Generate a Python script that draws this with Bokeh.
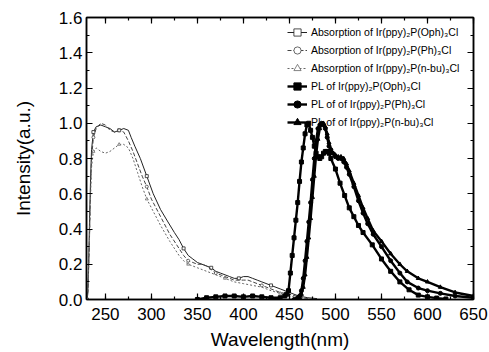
from bokeh.plotting import figure
from bokeh.models import (Range1d, LinearAxis, SingleIntervalTicker, Legend, LegendItem,
                          CustomJSTickFormatter, NumeralTickFormatter)
from bokeh.embed import file_html
from bokeh.resources import INLINE

# ---------------- data ----------------
abs_oph_wl = [230, 231, 232, 233, 234, 235, 237, 240, 245, 250, 255, 260, 265, 270, 275, 278,
              282, 288, 295, 302, 310, 318, 325, 330, 335, 340, 345, 350, 355, 360, 365, 370,
              375, 380, 385, 390, 395, 400, 405, 410, 415, 420, 430, 440, 450, 460, 470, 480]
abs_oph = [0.0, 0.05, 0.25, 0.5, 0.7, 0.85, 0.95, 0.98, 0.99, 0.98, 0.97, 0.95, 0.96, 0.97, 0.96, 0.92,
           0.87, 0.80, 0.70, 0.60, 0.51, 0.44, 0.38, 0.34, 0.29, 0.25, 0.23, 0.21, 0.20, 0.19, 0.18, 0.16,
           0.15, 0.14, 0.13, 0.12, 0.12, 0.13, 0.13, 0.12, 0.11, 0.10, 0.08, 0.06, 0.04, 0.02, 0.01, 0.005]

abs_ph_wl = [230, 231, 232, 233, 234, 235, 237, 240, 245, 250, 255, 260, 265, 270, 275, 280,
             285, 290, 295, 300, 310, 320, 330, 335, 340, 345, 350, 355, 360, 365, 370, 380,
             390, 400, 405, 410, 420, 430, 440, 450, 460, 470]
abs_ph = [0.0, 0.03, 0.2, 0.4, 0.65, 0.8, 0.92, 0.97, 1.0, 0.99, 0.96, 0.95, 0.96, 0.95, 0.90, 0.84,
          0.77, 0.70, 0.64, 0.57, 0.47, 0.37, 0.29, 0.25, 0.22, 0.21, 0.20, 0.20, 0.19, 0.17, 0.15, 0.13,
          0.11, 0.11, 0.11, 0.10, 0.08, 0.06, 0.04, 0.03, 0.015, 0.005]

abs_nbu_wl = [230, 231, 232, 233, 234, 235, 237, 240, 245, 250, 255, 260, 265, 270, 275, 280,
              285, 290, 295, 300, 310, 320, 330, 335, 340, 345, 350, 355, 360, 370, 380, 390,
              400, 410, 420, 430, 440, 450, 460, 470]
abs_nbu = [0.0, 0.03, 0.2, 0.4, 0.6, 0.75, 0.84, 0.86, 0.84, 0.83, 0.84, 0.86, 0.88, 0.88, 0.86, 0.80,
           0.72, 0.64, 0.57, 0.52, 0.42, 0.33, 0.25, 0.22, 0.20, 0.19, 0.18, 0.17, 0.16, 0.14, 0.12, 0.10,
           0.09, 0.08, 0.07, 0.05, 0.035, 0.02, 0.01, 0.005]

pl_oph_wl = [350, 360, 370, 380, 390, 400, 410, 420, 430, 440, 445, 447, 449, 451, 453, 455,
             457, 459, 461, 463, 465, 467, 469, 471, 473, 475, 477, 479, 481, 483, 485, 487,
             489, 491, 493, 495, 500, 505, 510, 515, 520, 525, 530, 540, 550, 560, 570, 580,
             590, 600, 610, 620]
pl_oph = [0.0, 0.01, 0.015, 0.02, 0.02, 0.015, 0.02, 0.015, 0.01, 0.01, 0.02, 0.03, 0.05, 0.15, 0.25, 0.35,
          0.45, 0.55, 0.67, 0.78, 0.86, 0.94, 0.99, 1.0, 0.96, 0.92, 0.87, 0.83, 0.81, 0.80, 0.81, 0.83,
          0.84, 0.84, 0.83, 0.80, 0.74, 0.66, 0.59, 0.52, 0.47, 0.42, 0.38, 0.31, 0.23, 0.16, 0.10, 0.055,
          0.025, 0.015, 0.008, 0.003]

pl_ph_wl = [455, 459, 461, 463, 465, 467, 469, 471, 473, 475, 477, 479, 481, 483, 485, 487,
            489, 491, 493, 495, 497, 500, 503, 506, 509, 512, 515, 520, 525, 530, 535, 541,
            550, 560, 570, 578, 590, 600, 614, 630, 650]
pl_ph = [0.0, 0.01, 0.02, 0.05, 0.12, 0.22, 0.33, 0.44, 0.55, 0.68, 0.80, 0.90, 0.97, 0.99, 1.0, 0.99,
         0.97, 0.92, 0.87, 0.85, 0.83, 0.81, 0.80, 0.80, 0.78, 0.75, 0.71, 0.64, 0.56, 0.49, 0.43, 0.37,
         0.30, 0.22, 0.15, 0.10, 0.065, 0.05, 0.035, 0.02, 0.01]

pl_nbu_wl = [457, 461, 463, 465, 467, 469, 471, 473, 475, 477, 479, 481, 483, 485, 487, 489,
             491, 493, 495, 497, 500, 503, 506, 509, 512, 515, 520, 525, 530, 535, 541, 550,
             560, 570, 578, 590, 600, 614, 630, 650]
pl_nbu = [0.0, 0.01, 0.03, 0.07, 0.14, 0.24, 0.35, 0.46, 0.58, 0.70, 0.82, 0.91, 0.97, 0.995, 1.0, 0.98,
          0.94, 0.89, 0.85, 0.83, 0.82, 0.81, 0.81, 0.80, 0.77, 0.73, 0.66, 0.59, 0.52, 0.46, 0.39, 0.33,
          0.26, 0.20, 0.16, 0.12, 0.10, 0.07, 0.04, 0.02]

labels = [
    "Absorption of Ir(ppy)\u2082P(Oph)\u2083Cl",
    "Absorption of Ir(ppy)\u2082P(Ph)\u2083Cl",
    "Absorption of Ir(ppy)\u2082P(n-bu)\u2083Cl",
    "PL of Ir(ppy)\u2082P(Oph)\u2083Cl",
    "PL of of Ir(ppy)\u2082P(Ph)\u2083Cl",
    "PL of of Ir(ppy)\u2082P(n-bu)\u2083Cl",
]

x_ticks_interval = 50
y_ticks_interval = 0.2

# ---------------- figure ----------------
FONT = "Liberation Sans"
p = figure(width=489, height=352, output_backend="svg", toolbar_location=None,
           x_range=Range1d(229.5, 650), y_range=Range1d(0, 1.6),
           min_border_left=86, min_border_right=16, min_border_top=17, min_border_bottom=53,
           background_fill_color="white", border_fill_color="white")
p.grid.visible = False
p.outline_line_color = "black"
p.outline_line_width = 1.5

p.xaxis.ticker = SingleIntervalTicker(interval=x_ticks_interval, num_minor_ticks=2)
p.yaxis.ticker = SingleIntervalTicker(interval=y_ticks_interval, num_minor_ticks=2)
p.yaxis.formatter = NumeralTickFormatter(format="0.0")
p.xaxis.axis_label = "Wavelength(nm)"
p.yaxis.axis_label = "Intensity(a.u.)"

for ax in (p.xaxis[0], p.yaxis[0]):
    ax.axis_line_color = "black"
    ax.axis_line_width = 1.5
    ax.major_tick_in = 6
    ax.major_tick_out = 0
    ax.minor_tick_in = 3
    ax.minor_tick_out = 0
    ax.major_tick_line_width = 1.2
    ax.minor_tick_line_width = 1.2
    ax.major_label_text_font = FONT
    ax.major_label_text_font_size = "17px"
    ax.major_label_text_color = "black"
    ax.major_label_text_line_height = 1.0
    ax.axis_label_text_font = FONT
    ax.axis_label_text_font_size = "19px"
    ax.axis_label_text_font_style = "normal"
    ax.axis_label_text_color = "black"
    ax.axis_label_text_line_height = 1.0
p.xaxis.major_label_standoff = 8
p.xaxis.axis_label_standoff = 6
p.yaxis.major_label_standoff = 4
p.yaxis.axis_label_standoff = 22

blank = CustomJSTickFormatter(code="return ''")
top = LinearAxis(ticker=SingleIntervalTicker(interval=x_ticks_interval, num_minor_ticks=2), formatter=blank,
                 major_label_text_font_size="0px", major_label_standoff=0,
                 major_tick_in=6, major_tick_out=0, minor_tick_in=3, minor_tick_out=0,
                 axis_line_width=1.5, major_tick_line_width=1.2, minor_tick_line_width=1.2)
right = LinearAxis(ticker=SingleIntervalTicker(interval=y_ticks_interval, num_minor_ticks=2), formatter=blank,
                   major_label_text_font_size="0px", major_label_standoff=0,
                   major_tick_in=6, major_tick_out=0, minor_tick_in=3, minor_tick_out=0,
                   axis_line_width=1.5, major_tick_line_width=1.2, minor_tick_line_width=1.2)
p.add_layout(top, "above")
p.add_layout(right, "right")

# ---------------- absorption curves ----------------
abs_sets = [
    (abs_oph_wl, abs_oph, "#222222", "solid", "square"),
    (abs_ph_wl, abs_ph, "#444444", "4 2", "circle"),
    (abs_nbu_wl, abs_nbu, "#666666", "2 2", "triangle"),
]
items = []
for i, (wl, val, col, dash, mk) in enumerate(abs_sets):
    lr = p.line(wl, val, line_color=col, line_width=1, line_dash=dash)
    sr = p.scatter(wl[::6], val[::6], marker=mk, size=3, line_color=col,
                   fill_color="white", line_width=0.8)
    items.append(LegendItem(label=labels[i], renderers=[lr, sr]))

# ---------------- PL curves ----------------
pl_sets = [
    (pl_oph_wl, pl_oph, "square"),
    (pl_ph_wl, pl_ph, "circle"),
    (pl_nbu_wl, pl_nbu, "triangle"),
]
for j, (wl, val, mk) in enumerate(pl_sets):
    lr = p.line(wl, val, line_color="black", line_width=2.4)
    sr = p.scatter(wl, val, marker=mk, size=4, line_color="black", fill_color="black")
    items.append(LegendItem(label=labels[3 + j], renderers=[lr, sr]))

legend = Legend(items=items, location=(201, 168), border_line_color=None,
                background_fill_alpha=0, padding=2, margin=0, spacing=0,
                label_height=18, glyph_height=18, glyph_width=20, label_standoff=4,
                label_text_font=FONT, label_text_font_size="10.5px", label_text_color="black")
p.add_layout(legend, "center")

open("out.html", "w").write(file_html(p, INLINE))
